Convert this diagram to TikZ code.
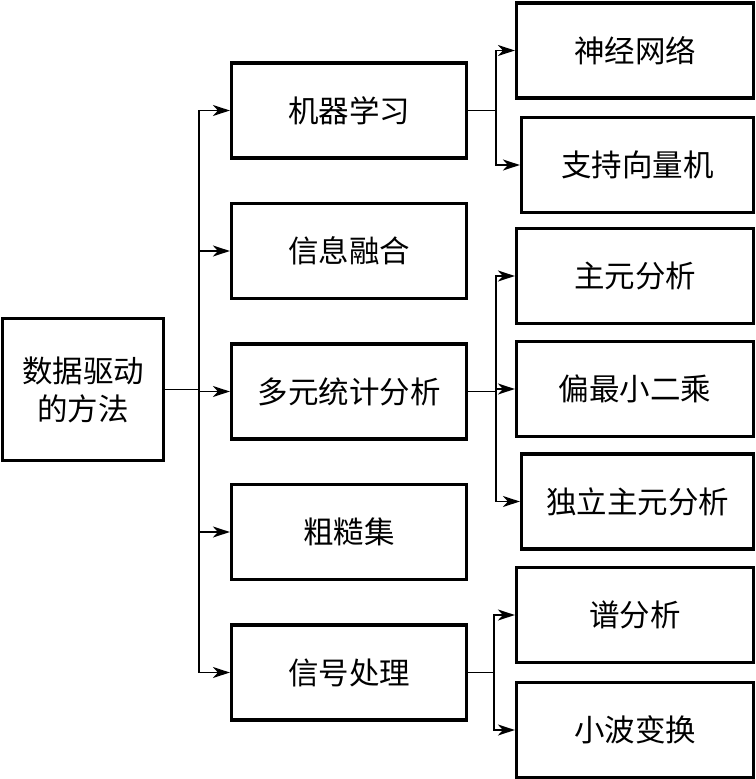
\documentclass[tikz,border=0pt]{standalone}
\usepackage{fontspec}
\setmainfont{Noto Sans CJK SC}
\usetikzlibrary{arrows.meta, positioning}

\begin{document}
\begin{tikzpicture}[
            x=1pt, y=-1pt,
            on grid,
            node distance = 140.5pt,
            font=\fontsize{30.5}{38}\selectfont,
            line width=1.7pt,
            >={Stealth[length=17pt,width=11pt,inset=5pt]}
        ]

        \tikzstyle{box}=[
            draw,
            line width=3.2pt,
            minimum width=235pt,
            minimum height=95pt,
            inner sep=0pt
        ]
        \tikzstyle{leaf}=[box, minimum width=237pt]
        \tikzstyle{narrowleaf}=[box, minimum width=232pt]

        \useasboundingbox (0,0) rectangle (755,779);

        % root of the tree
        \node[box, minimum width=161pt, minimum height=142pt, align=center] (root) at (83,389.5) {数据驱动\\的方法};

        % the five families of methods
        \node[box] (ml) at (349,110.5) {机器学习};
        \node[box] (fus) [below=of ml] {信息融合};
        \node[box] (msa) [below=of fus] {多元统计分析};
        \node[box] (rough) [below=of msa] {粗糙集};
        \node[box] (sig) [below=of rough] {信号处理};

        % the single methods
        \node[leaf] (nn) at (635,50.5) {神经网络};
        \node[narrowleaf] (svm) at (637.5,165) {支持向量机};
        \node[leaf] (pca) at (635,276) {主元分析};
        \node[leaf] (pls) at (635,389) {偏最小二乘};
        \node[narrowleaf] (ica) at (637.5,501.5) {独立主元分析};
        \node[leaf] (spec) at (635,615) {谱分析};
        \node[leaf] (wav) at (635,730) {小波变换};

        % forks
        \coordinate (trunk) at (199,389.5);
        \coordinate (mlfork) at ([xshift=28pt]ml.east);
        \coordinate (msafork) at ([xshift=28pt]msa.east);
        \coordinate (sigfork) at ([xshift=26pt]sig.east);

        \draw (root.east) -- (trunk);
        \draw[->] (trunk) |- (ml.west);
        \draw[->] (trunk) |- (fus.west);
        \draw[->] (trunk) |- (msa.west);
        \draw[->] (trunk) |- (rough.west);
        \draw[->] (trunk) |- (sig.west);

        \draw (ml.east) -- (mlfork);
        \draw[->] (mlfork) |- (nn.west);
        \draw[->] (mlfork) |- (svm.west);

        \draw (msa.east) -- (msafork);
        \draw[->] (msafork) |- (pca.west);
        \draw[->] (msafork) |- (pls.west);
        \draw[->] (msafork) |- (ica.west);

        \draw (sig.east) -- (sigfork);
        \draw[->] (sigfork) |- (spec.west);
        \draw[->] (sigfork) |- (wav.west);

    \end{tikzpicture}
\end{document}
